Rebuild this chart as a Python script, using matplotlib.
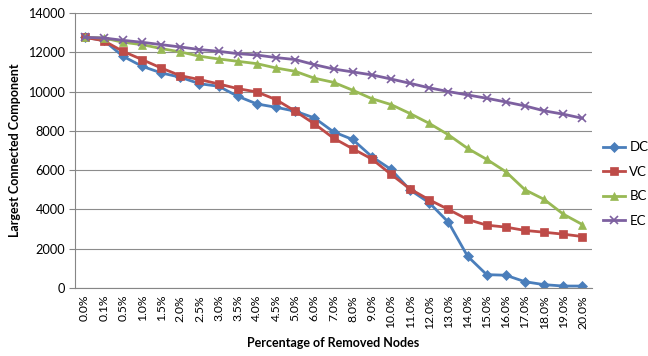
import matplotlib
matplotlib.use("Agg")
import matplotlib.pyplot as plt

categories = ["0.0%", "0.1%", "0.5%", "1.0%", "1.5%", "2.0%", "2.5%", "3.0%", "3.5%",
              "4.0%", "4.5%", "5.0%", "6.0%", "7.0%", "8.0%", "9.0%", "10.0%", "11.0%",
              "12.0%", "13.0%", "14.0%", "15.0%", "16.0%", "17.0%", "18.0%", "19.0%", "20.0%"]

dc = [12760, 12610, 11800, 11290, 10950, 10730, 10400, 10270, 9760, 9370, 9200, 9000,
      8660, 7950, 7560, 6690, 6040, 4990, 4340, 3350, 1620, 680, 650, 320, 170, 100, 100]
vc = [12760, 12590, 12050, 11630, 11200, 10810, 10610, 10390, 10150, 9980, 9590, 9000,
      8360, 7630, 7090, 6570, 5790, 5040, 4490, 4000, 3490, 3200, 3100, 2930, 2840, 2740, 2620]
bc = [12760, 12730, 12510, 12390, 12190, 12020, 11800, 11660, 11540, 11420, 11200, 11030,
      10680, 10470, 10070, 9640, 9340, 8880, 8380, 7800, 7110, 6550, 5920, 5000, 4510, 3760, 3230]
ec = [12760, 12730, 12610, 12510, 12390, 12270, 12140, 12050, 11930, 11860, 11730, 11630,
      11370, 11150, 11000, 10850, 10640, 10420, 10190, 10000, 9830, 9660, 9470, 9270, 9020, 8850, 8640]

yticks = [0, 2000, 4000, 6000, 8000, 10000, 12000, 14000]

plt.rcParams['font.family'] = ['Lato', 'DejaVu Sans']

fig = plt.figure(figsize=(6.48, 3.56), dpi=100)
ax = fig.add_axes([75/648, 1-288/356, (592-75)/648, (288-13)/356])

x = list(range(len(categories)))
series = [
    ("DC", dc, "#4A7EBB", "D", 5.0),
    ("VC", vc, "#BE4B48", "s", 5.8),
    ("BC", bc, "#98B954", "^", 6.2),
    ("EC", ec, "#7D60A0", "x", 5.5),
]
for name, vals, col, mk, ms in series:
    ax.plot(x, vals, color=col, lw=2.0, marker=mk, markersize=ms,
            markeredgecolor=col, markerfacecolor=col,
            markeredgewidth=1.2 if mk == "x" else 0.5, label=name)

ax.set_xlim(-0.5, len(categories) - 0.5)
ax.set_ylim(0, 14000)
ax.set_yticks(yticks)
ax.set_yticklabels([str(v) for v in yticks], fontsize=9.2)
ax.set_xticks(x)
ax.set_xticklabels(categories, rotation=90, fontsize=8.7)
ax.tick_params(axis='x', length=0, pad=5)
ax.tick_params(axis='y', length=4, color="#868686", pad=3)
ax.grid(axis='y', color="#8C8C8C", lw=0.8)
ax.set_axisbelow(True)
for s in ["top", "right"]:
    ax.spines[s].set_visible(False)
for s in ["left", "bottom"]:
    ax.spines[s].set_color("#868686")
    ax.spines[s].set_linewidth(0.8)

ax.set_ylabel("Largest Connected Component", fontsize=9, fontweight="bold", labelpad=5)
ax.set_xlabel("Percentage of Removed Nodes", fontsize=9, fontweight="bold", labelpad=6)

fig.legend(loc="center left", bbox_to_anchor=(603/648, 1-184/356), frameon=False,
           fontsize=9.5, handlelength=1.7, handletextpad=0.3, labelspacing=0.95,
           borderaxespad=0, borderpad=0)

fig.savefig("out.png", dpi=100)
